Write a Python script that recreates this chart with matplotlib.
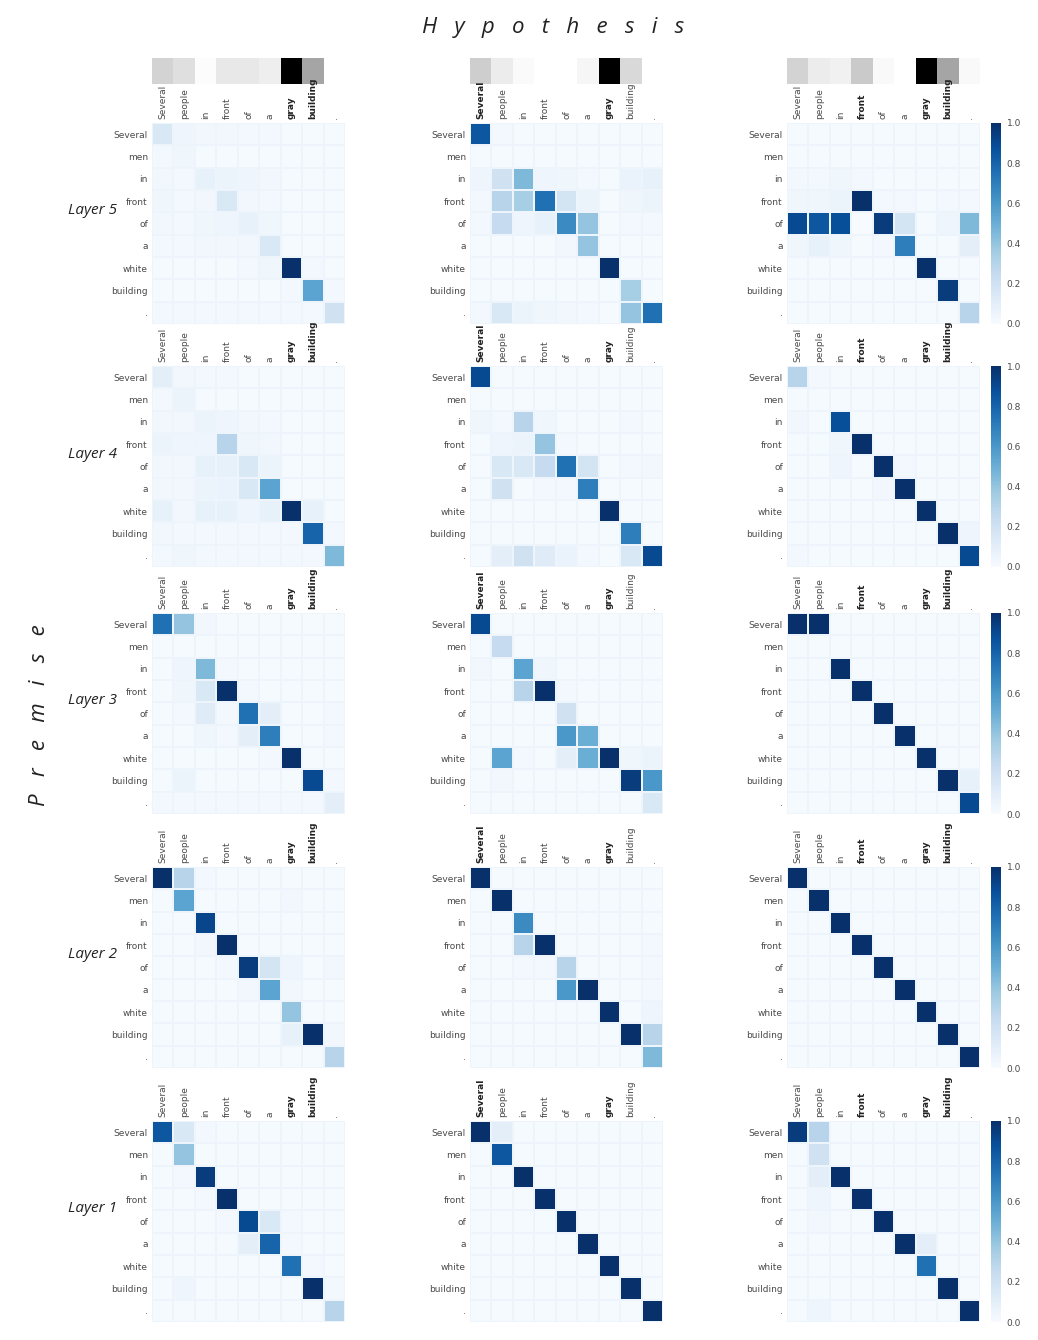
import numpy as np
import matplotlib
matplotlib.use("Agg")
import matplotlib.pyplot as plt

premise = ["Several", "men", "in", "front", "of", "a", "white", "building", "."]
hypothesis = ["Several", "people", "in", "front", "of", "a", "gray", "building", "."]
layers = ["Layer 5", "Layer 4", "Layer 3", "Layer 2", "Layer 1"]

# bold hypothesis words per column
bold_words = [["gray", "building"], ["Several", "gray"], ["front", "gray", "building"]]

# hypothesis saliency bars (top strip)
sal_a = [0.28, 0.22, 0.03, 0.17, 0.17, 0.14, 1.00, 0.45, 0.00]
sal_b = [0.30, 0.15, 0.04, 0.00, 0.00, 0.08, 1.00, 0.25, 0.00]
sal_c = [0.28, 0.15, 0.12, 0.32, 0.05, 0.00, 1.00, 0.45, 0.05]

# attention matrices: rows = premise, cols = hypothesis
l5_a = [[0.15, 0.05, 0.03, 0.03, 0.02, 0.02, 0.01, 0.01, 0.01],
        [0.02, 0.04, 0.01, 0.01, 0.01, 0.01, 0.01, 0.01, 0.01],
        [0.03, 0.02, 0.08, 0.06, 0.05, 0.03, 0.01, 0.01, 0.01],
        [0.04, 0.02, 0.03, 0.15, 0.03, 0.02, 0.01, 0.01, 0.01],
        [0.03, 0.02, 0.04, 0.05, 0.08, 0.04, 0.01, 0.01, 0.01],
        [0.02, 0.02, 0.03, 0.03, 0.03, 0.15, 0.01, 0.01, 0.01],
        [0.01, 0.01, 0.01, 0.01, 0.02, 0.04, 1.00, 0.02, 0.01],
        [0.01, 0.01, 0.01, 0.01, 0.01, 0.01, 0.02, 0.55, 0.02],
        [0.02, 0.02, 0.02, 0.02, 0.02, 0.02, 0.02, 0.02, 0.20]]
l5_b = [[0.85, 0.02, 0.01, 0.01, 0.01, 0.01, 0.01, 0.01, 0.01],
        [0.01, 0.01, 0.01, 0.01, 0.01, 0.01, 0.01, 0.01, 0.01],
        [0.05, 0.20, 0.45, 0.05, 0.04, 0.02, 0.01, 0.07, 0.08],
        [0.02, 0.30, 0.35, 0.75, 0.18, 0.06, 0.01, 0.04, 0.06],
        [0.02, 0.25, 0.05, 0.08, 0.65, 0.40, 0.01, 0.02, 0.02],
        [0.01, 0.01, 0.01, 0.01, 0.03, 0.40, 0.01, 0.01, 0.01],
        [0.01, 0.01, 0.01, 0.01, 0.01, 0.01, 1.00, 0.01, 0.01],
        [0.01, 0.01, 0.01, 0.01, 0.01, 0.01, 0.01, 0.35, 0.01],
        [0.02, 0.15, 0.06, 0.04, 0.03, 0.02, 0.01, 0.40, 0.75]]
l5_c = [[0.01, 0.01, 0.01, 0.01, 0.01, 0.01, 0.01, 0.01, 0.01],
        [0.01, 0.01, 0.01, 0.01, 0.01, 0.01, 0.01, 0.01, 0.01],
        [0.02, 0.02, 0.04, 0.02, 0.01, 0.01, 0.01, 0.01, 0.01],
        [0.04, 0.04, 0.06, 1.00, 0.02, 0.02, 0.01, 0.02, 0.02],
        [0.90, 0.85, 0.88, 0.00, 0.95, 0.18, 0.01, 0.05, 0.45],
        [0.04, 0.08, 0.04, 0.01, 0.02, 0.70, 0.01, 0.01, 0.10],
        [0.01, 0.01, 0.01, 0.01, 0.01, 0.01, 1.00, 0.01, 0.01],
        [0.01, 0.01, 0.01, 0.01, 0.01, 0.01, 0.01, 0.95, 0.01],
        [0.01, 0.01, 0.01, 0.01, 0.01, 0.01, 0.01, 0.01, 0.30]]

l4_a = [[0.10, 0.03, 0.02, 0.02, 0.01, 0.01, 0.01, 0.01, 0.01],
        [0.02, 0.06, 0.01, 0.01, 0.01, 0.01, 0.01, 0.01, 0.01],
        [0.03, 0.03, 0.06, 0.05, 0.03, 0.02, 0.01, 0.01, 0.01],
        [0.06, 0.05, 0.05, 0.30, 0.04, 0.03, 0.01, 0.01, 0.01],
        [0.03, 0.03, 0.08, 0.08, 0.15, 0.06, 0.01, 0.01, 0.01],
        [0.03, 0.03, 0.06, 0.07, 0.15, 0.55, 0.01, 0.01, 0.01],
        [0.08, 0.03, 0.08, 0.08, 0.05, 0.08, 1.00, 0.08, 0.01],
        [0.03, 0.02, 0.02, 0.02, 0.02, 0.02, 0.02, 0.80, 0.02],
        [0.02, 0.04, 0.02, 0.02, 0.02, 0.02, 0.02, 0.02, 0.45]]
l4_b = [[0.90, 0.01, 0.01, 0.01, 0.01, 0.01, 0.01, 0.01, 0.01],
        [0.01, 0.01, 0.01, 0.01, 0.01, 0.01, 0.01, 0.01, 0.01],
        [0.04, 0.02, 0.30, 0.04, 0.01, 0.01, 0.01, 0.02, 0.01],
        [0.01, 0.05, 0.06, 0.40, 0.02, 0.01, 0.01, 0.01, 0.01],
        [0.01, 0.15, 0.15, 0.25, 0.75, 0.18, 0.01, 0.02, 0.03],
        [0.01, 0.20, 0.01, 0.02, 0.02, 0.70, 0.01, 0.01, 0.01],
        [0.01, 0.01, 0.01, 0.01, 0.01, 0.01, 1.00, 0.01, 0.01],
        [0.01, 0.01, 0.01, 0.01, 0.01, 0.01, 0.01, 0.70, 0.01],
        [0.01, 0.10, 0.20, 0.12, 0.07, 0.02, 0.01, 0.15, 0.90]]
l4_c = [[0.30, 0.02, 0.01, 0.01, 0.01, 0.01, 0.01, 0.01, 0.01],
        [0.01, 0.01, 0.01, 0.01, 0.01, 0.01, 0.01, 0.01, 0.01],
        [0.03, 0.01, 0.88, 0.01, 0.01, 0.01, 0.01, 0.01, 0.01],
        [0.01, 0.01, 0.04, 1.00, 0.01, 0.01, 0.01, 0.01, 0.01],
        [0.01, 0.01, 0.05, 0.01, 1.00, 0.02, 0.01, 0.01, 0.01],
        [0.01, 0.01, 0.01, 0.01, 0.03, 1.00, 0.01, 0.01, 0.01],
        [0.01, 0.01, 0.01, 0.01, 0.01, 0.01, 1.00, 0.01, 0.01],
        [0.01, 0.01, 0.01, 0.01, 0.01, 0.01, 0.01, 1.00, 0.05],
        [0.02, 0.01, 0.01, 0.01, 0.01, 0.01, 0.01, 0.01, 0.90]]

l3_a = [[0.75, 0.40, 0.03, 0.01, 0.01, 0.01, 0.01, 0.01, 0.01],
        [0.01, 0.01, 0.01, 0.01, 0.01, 0.01, 0.01, 0.01, 0.01],
        [0.01, 0.05, 0.45, 0.02, 0.01, 0.01, 0.01, 0.01, 0.01],
        [0.01, 0.04, 0.15, 1.00, 0.02, 0.01, 0.01, 0.01, 0.01],
        [0.01, 0.02, 0.12, 0.02, 0.75, 0.10, 0.01, 0.01, 0.02],
        [0.01, 0.01, 0.04, 0.02, 0.10, 0.70, 0.01, 0.01, 0.02],
        [0.01, 0.01, 0.01, 0.01, 0.01, 0.02, 1.00, 0.01, 0.01],
        [0.01, 0.06, 0.01, 0.01, 0.01, 0.01, 0.01, 0.90, 0.02],
        [0.02, 0.02, 0.02, 0.02, 0.02, 0.02, 0.02, 0.02, 0.10]]
l3_b = [[0.90, 0.01, 0.01, 0.01, 0.01, 0.01, 0.01, 0.01, 0.01],
        [0.01, 0.25, 0.01, 0.01, 0.01, 0.01, 0.01, 0.01, 0.01],
        [0.03, 0.01, 0.55, 0.04, 0.01, 0.01, 0.01, 0.01, 0.01],
        [0.01, 0.01, 0.30, 1.00, 0.02, 0.01, 0.01, 0.01, 0.01],
        [0.01, 0.01, 0.01, 0.01, 0.20, 0.01, 0.01, 0.01, 0.01],
        [0.01, 0.01, 0.01, 0.01, 0.60, 0.50, 0.01, 0.01, 0.01],
        [0.01, 0.55, 0.02, 0.01, 0.10, 0.50, 1.00, 0.04, 0.06],
        [0.01, 0.03, 0.01, 0.01, 0.01, 0.01, 0.01, 0.95, 0.60],
        [0.01, 0.01, 0.01, 0.01, 0.01, 0.01, 0.01, 0.01, 0.15]]
l3_c = [[1.00, 1.00, 0.01, 0.01, 0.01, 0.01, 0.01, 0.01, 0.01],
        [0.01, 0.01, 0.01, 0.01, 0.01, 0.01, 0.01, 0.01, 0.01],
        [0.01, 0.01, 1.00, 0.01, 0.01, 0.01, 0.01, 0.01, 0.01],
        [0.01, 0.01, 0.01, 1.00, 0.01, 0.01, 0.01, 0.01, 0.01],
        [0.01, 0.01, 0.01, 0.01, 1.00, 0.01, 0.01, 0.01, 0.01],
        [0.01, 0.01, 0.01, 0.01, 0.01, 1.00, 0.01, 0.01, 0.01],
        [0.01, 0.01, 0.01, 0.01, 0.01, 0.01, 1.00, 0.01, 0.01],
        [0.01, 0.01, 0.01, 0.01, 0.01, 0.01, 0.01, 1.00, 0.08],
        [0.01, 0.01, 0.01, 0.01, 0.01, 0.01, 0.01, 0.01, 0.90]]

l2_a = [[1.00, 0.30, 0.02, 0.01, 0.01, 0.01, 0.01, 0.01, 0.01],
        [0.01, 0.55, 0.01, 0.01, 0.01, 0.01, 0.03, 0.01, 0.01],
        [0.01, 0.01, 0.92, 0.01, 0.01, 0.01, 0.01, 0.01, 0.01],
        [0.01, 0.01, 0.03, 1.00, 0.01, 0.01, 0.01, 0.01, 0.01],
        [0.01, 0.01, 0.01, 0.02, 0.95, 0.18, 0.05, 0.01, 0.03],
        [0.01, 0.01, 0.01, 0.01, 0.03, 0.55, 0.03, 0.01, 0.01],
        [0.01, 0.01, 0.01, 0.01, 0.01, 0.01, 0.40, 0.01, 0.01],
        [0.01, 0.01, 0.01, 0.01, 0.01, 0.01, 0.08, 1.00, 0.03],
        [0.01, 0.01, 0.01, 0.01, 0.01, 0.01, 0.01, 0.01, 0.30]]
l2_b = [[1.00, 0.01, 0.01, 0.01, 0.01, 0.01, 0.01, 0.01, 0.01],
        [0.01, 1.00, 0.01, 0.01, 0.01, 0.01, 0.01, 0.01, 0.01],
        [0.01, 0.01, 0.65, 0.01, 0.01, 0.01, 0.01, 0.01, 0.01],
        [0.01, 0.01, 0.30, 1.00, 0.01, 0.01, 0.01, 0.01, 0.02],
        [0.01, 0.01, 0.02, 0.02, 0.30, 0.01, 0.01, 0.01, 0.02],
        [0.01, 0.01, 0.01, 0.01, 0.60, 1.00, 0.01, 0.01, 0.02],
        [0.01, 0.01, 0.01, 0.01, 0.01, 0.01, 1.00, 0.01, 0.05],
        [0.01, 0.01, 0.01, 0.01, 0.01, 0.01, 0.01, 1.00, 0.30],
        [0.01, 0.01, 0.01, 0.01, 0.01, 0.01, 0.01, 0.01, 0.45]]
l2_c = [[1.00, 0.01, 0.01, 0.01, 0.01, 0.01, 0.01, 0.01, 0.01],
        [0.01, 1.00, 0.01, 0.01, 0.01, 0.01, 0.01, 0.01, 0.01],
        [0.01, 0.01, 1.00, 0.01, 0.01, 0.01, 0.01, 0.01, 0.01],
        [0.01, 0.01, 0.01, 1.00, 0.01, 0.01, 0.01, 0.01, 0.01],
        [0.01, 0.01, 0.01, 0.01, 1.00, 0.01, 0.01, 0.01, 0.01],
        [0.01, 0.01, 0.01, 0.01, 0.01, 1.00, 0.01, 0.01, 0.01],
        [0.01, 0.01, 0.01, 0.01, 0.01, 0.01, 1.00, 0.01, 0.01],
        [0.01, 0.01, 0.01, 0.01, 0.01, 0.01, 0.01, 1.00, 0.01],
        [0.01, 0.01, 0.01, 0.01, 0.01, 0.01, 0.01, 0.01, 1.00]]

l1_a = [[0.85, 0.15, 0.02, 0.01, 0.01, 0.01, 0.01, 0.01, 0.01],
        [0.01, 0.40, 0.01, 0.01, 0.01, 0.01, 0.01, 0.01, 0.01],
        [0.01, 0.02, 0.95, 0.01, 0.01, 0.01, 0.01, 0.01, 0.01],
        [0.01, 0.01, 0.02, 1.00, 0.01, 0.01, 0.01, 0.01, 0.01],
        [0.01, 0.01, 0.01, 0.02, 0.90, 0.15, 0.02, 0.01, 0.01],
        [0.01, 0.01, 0.01, 0.01, 0.10, 0.80, 0.02, 0.01, 0.01],
        [0.01, 0.01, 0.01, 0.01, 0.01, 0.01, 0.75, 0.02, 0.01],
        [0.01, 0.05, 0.01, 0.01, 0.01, 0.01, 0.01, 1.00, 0.02],
        [0.01, 0.01, 0.01, 0.01, 0.01, 0.01, 0.01, 0.01, 0.30]]
l1_b = [[1.00, 0.10, 0.01, 0.01, 0.01, 0.01, 0.01, 0.01, 0.01],
        [0.01, 0.85, 0.01, 0.01, 0.01, 0.01, 0.01, 0.01, 0.01],
        [0.01, 0.01, 1.00, 0.01, 0.01, 0.01, 0.01, 0.01, 0.01],
        [0.01, 0.01, 0.01, 1.00, 0.01, 0.01, 0.01, 0.01, 0.01],
        [0.01, 0.01, 0.01, 0.01, 1.00, 0.01, 0.01, 0.01, 0.01],
        [0.01, 0.01, 0.01, 0.01, 0.01, 1.00, 0.01, 0.01, 0.01],
        [0.01, 0.01, 0.01, 0.01, 0.01, 0.01, 1.00, 0.01, 0.01],
        [0.01, 0.01, 0.01, 0.01, 0.01, 0.01, 0.01, 1.00, 0.01],
        [0.01, 0.01, 0.01, 0.01, 0.01, 0.01, 0.01, 0.01, 1.00]]
l1_c = [[0.95, 0.30, 0.01, 0.01, 0.01, 0.01, 0.01, 0.01, 0.01],
        [0.01, 0.20, 0.01, 0.01, 0.01, 0.01, 0.01, 0.01, 0.01],
        [0.01, 0.10, 1.00, 0.01, 0.01, 0.01, 0.01, 0.01, 0.01],
        [0.01, 0.05, 0.01, 1.00, 0.01, 0.01, 0.01, 0.01, 0.01],
        [0.01, 0.03, 0.01, 0.01, 1.00, 0.01, 0.01, 0.01, 0.01],
        [0.01, 0.01, 0.01, 0.01, 0.01, 1.00, 0.10, 0.01, 0.01],
        [0.01, 0.01, 0.01, 0.01, 0.01, 0.01, 0.75, 0.01, 0.01],
        [0.01, 0.01, 0.01, 0.01, 0.01, 0.01, 0.01, 1.00, 0.01],
        [0.01, 0.05, 0.01, 0.01, 0.01, 0.01, 0.01, 0.01, 1.00]]

grid = [[l5_a, l5_b, l5_c],
        [l4_a, l4_b, l4_c],
        [l3_a, l3_b, l3_c],
        [l2_a, l2_b, l2_c],
        [l1_a, l1_b, l1_c]]
saliency = [sal_a, sal_b, sal_c]

W, H = 1038, 1340
fig = plt.figure(figsize=(W / 100, H / 100), dpi=100)


def px_axes(x, y, w, h):
    return fig.add_axes([x / W, 1 - (y + h) / H, w / W, h / H])


col_x = [152, 470, 787]
row_y = [123, 366, 613, 867, 1121]
hm_w, hm_h = 193, 201
lab_col = "#4a4a4a"
n = len(hypothesis)

# saliency strips
for j in range(3):
    ax = px_axes(col_x[j], 58, hm_w, 26)
    ax.pcolormesh(np.array([saliency[j]]), cmap="Greys", vmin=0, vmax=1)
    ax.set_xlim(0, n)
    ax.axis("off")

for i in range(5):
    for j in range(3):
        ax = px_axes(col_x[j], row_y[i], hm_w, hm_h)
        m = ax.pcolormesh(np.array(grid[i][j]), cmap="Blues", vmin=0, vmax=1,
                          edgecolors="#eef4fb", linewidth=0.3)
        ax.set_xlim(0, n)
        ax.set_ylim(len(premise), 0)
        ax.xaxis.tick_top()
        ax.set_xticks(np.arange(n) + 0.5)
        ax.set_xticklabels(hypothesis, rotation=90, fontsize=6.5, color=lab_col)
        for t in ax.get_xticklabels():
            if t.get_text() in bold_words[j]:
                t.set_fontweight("bold")
                t.set_color("#222222")
        ax.set_yticks(np.arange(len(premise)) + 0.5)
        ax.set_yticklabels(premise, fontsize=6.5, color=lab_col)
        ax.tick_params(length=0, pad=3)
        for s in ax.spines.values():
            s.set_visible(False)
        if j == 2:
            cax = px_axes(991, row_y[i], 10, hm_h)
            cb = fig.colorbar(m, cax=cax, ticks=[0, 0.2, 0.4, 0.6, 0.8, 1.0])
            cb.outline.set_visible(False)
            cb.ax.tick_params(length=0, labelsize=6.5, labelcolor=lab_col, pad=4)
            cb.ax.set_yticklabels(["0.0", "0.2", "0.4", "0.6", "0.8", "1.0"])
    fig.text(92 / W, 1 - (row_y[i] + 88) / H, layers[i], fontsize=11,
             style="italic", ha="center", va="center", family="Open Sans", color="#222222")

fig.text(553 / W, 1 - 28 / H, "H   y   p   o   t   h   e   s   i   s", fontsize=16,
         style="italic", ha="center", va="center", family="Open Sans", color="#222222")
fig.text(40 / W, 1 - 715 / H, "P   r   e   m   i   s   e", fontsize=16, style="italic",
         rotation=90, ha="center", va="center", family="Open Sans", color="#222222")

fig.savefig("out.png", dpi=100, facecolor="white")
